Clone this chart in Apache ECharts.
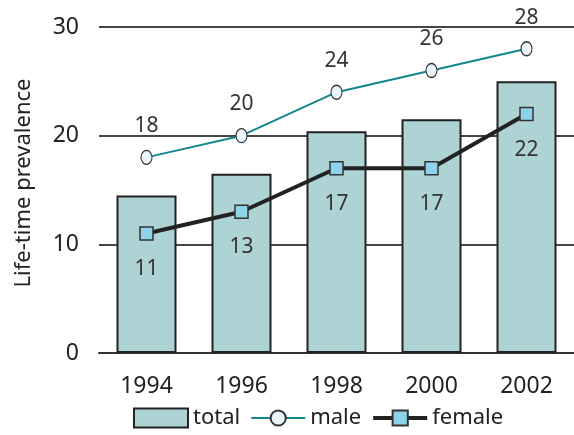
<!DOCTYPE html>
<html>
<head>
<meta charset="utf-8">
<script src="https://cdn.jsdelivr.net/npm/echarts@6/dist/echarts.min.js"></script>
<style>
  html, body { margin: 0; padding: 0; background: #fff; }
  #main { width: 574px; height: 435px; }
</style>
</head>
<body>
<div id="main"></div>
<script>
// 数据
const years = ['1994', '1996', '1998', '2000', '2002'];
const total = [14.5, 16.5, 20.4, 21.5, 25.0];
const male = [18, 20, 24, 26, 28];
const female = [11, 13, 17, 17, 22];
const yTicks = [0, 10, 20, 30];

const myChart = echarts.init(document.getElementById('main'));
const font = 'Noto Sans';
const option = {
  textStyle: { fontFamily: font },
  animation: false,
  grid: { left: 99, right: 0, top: 27, bottom: 82 },
  // 图例
  legend: {
    bottom: 1,
    left: 128,
    itemGap: 10,
    itemWidth: 54,
    itemHeight: 19,
    textStyle: { fontSize: 22, color: '#222', fontFamily: font },
    data: [
      { name: 'total', icon: 'rect' },
      { name: 'male', lineStyle: { color: '#13878d', width: 2 } },
      { name: 'female', lineStyle: { color: '#222', width: 4 } }
    ]
  },
  xAxis: {
    type: 'category',
    data: years,
    axisLine: { lineStyle: { color: '#333', width: 2 } },
    axisTick: { length: 9, lineStyle: { color: '#333', width: 2 } },
    axisLabel: { fontSize: 23, color: '#222', margin: 22, fontFamily: font }
  },
  yAxis: {
    type: 'value',
    min: yTicks[0],
    max: yTicks[yTicks.length - 1],
    interval: 10,
    name: 'Life-time prevalence',
    nameLocation: 'middle',
    nameGap: 64,
    nameTextStyle: { fontSize: 22, color: '#222', fontFamily: font, padding: [0, 0, 0, 14] },
    axisLine: { show: false },
    axisTick: { show: false },
    axisLabel: { fontSize: 23, color: '#222', margin: 20, fontFamily: font },
    splitLine: { lineStyle: { color: '#444', width: 2 } }
  },
  series: [
    {
      name: 'total',
      type: 'bar',
      data: total,
      barWidth: 60,
      itemStyle: { color: '#aed3d4', borderColor: '#222', borderWidth: 2 }
    },
    {
      name: 'male',
      type: 'line',
      data: male,
      symbol: 'circle',
      symbolSize: [11, 14],
      lineStyle: { color: '#13878d', width: 2 },
      itemStyle: { color: '#eaf4fb', borderColor: '#333', borderWidth: 1.2 },
      label: { show: true, position: 'top', distance: 13, fontSize: 21, color: '#333', fontFamily: font },
      z: 3
    },
    {
      name: 'female',
      type: 'line',
      data: female,
      symbol: 'rect',
      symbolSize: [13, 13],
      lineStyle: { color: '#222', width: 4 },
      itemStyle: { color: '#8dd4ea', borderColor: '#333', borderWidth: 1.5 },
      label: { show: true, position: 'bottom', distance: 18, fontSize: 21, color: '#333', fontFamily: font },
      z: 4
    }
  ]
};
myChart.setOption(option);
</script>
</body>
</html>
